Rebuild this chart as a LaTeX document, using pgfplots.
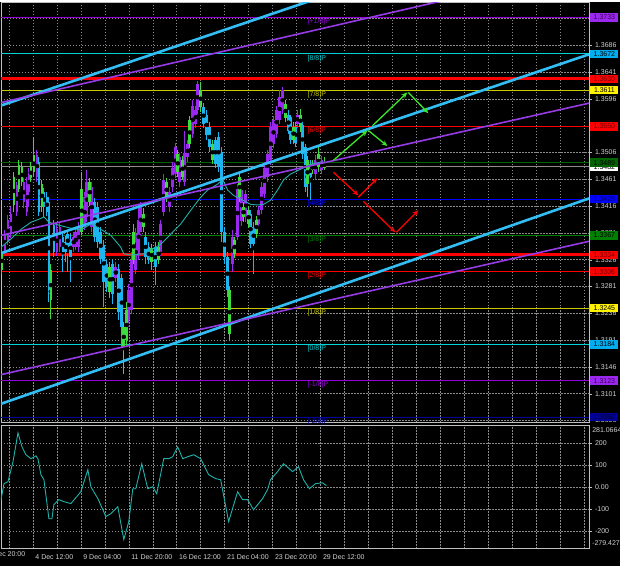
\documentclass[border=0pt]{standalone}
\usepackage{pgfplots}
\pgfplotsset{compat=1.18}
\usepackage{pgfplotstable}
\usepackage{fontspec}
\setmainfont{Liberation Sans}
\usetikzlibrary{arrows.meta,calc}
\pgfdeclarelayer{bg}
\pgfsetlayers{bg,main}

\definecolor{cP}{RGB}{155,40,240}
\definecolor{cB}{RGB}{30,180,240}
\definecolor{cG}{RGB}{60,220,60}
\definecolor{chan}{RGB}{50,190,245}
\definecolor{pchan}{RGB}{150,60,230}
\definecolor{ma}{RGB}{32,178,170}
\definecolor{lvPurple}{RGB}{150,0,220}
\definecolor{lvCyan}{RGB}{0,210,215}
\definecolor{lvYellow}{RGB}{200,200,0}
\definecolor{lvDGreen}{RGB}{0,100,0}
\definecolor{lvBlue}{RGB}{0,0,255}
\definecolor{lvGreen}{RGB}{0,128,0}
\definecolor{lvNavy}{RGB}{0,0,150}
\definecolor{arrG}{RGB}{60,230,40}

% candles: x, high, low, body top, body bottom
\pgfplotstableread{
x h l bt bb
4 1.3376 1.3336 1.3369 1.3342
7 1.3401 1.3351 1.3393 1.3356
10 1.3414 1.3362 1.3403 1.3369
16 1.3456 1.3399 1.3451 1.3406
23 1.3463 1.3413 1.3456 1.3423
26 1.3465 1.3399 1.3456 1.3406
28 1.3480 1.3414 1.3473 1.3440
36 1.3510 1.3456 1.3502 1.3465
56 1.3389 1.3332 1.3377 1.3339
59 1.3389 1.3339 1.3381 1.3347
73 1.3372 1.3339 1.3364 1.3347
75 1.3379 1.3342 1.3372 1.3347
78 1.3389 1.3339 1.3381 1.3347
84 1.3440 1.3376 1.3431 1.3381
86 1.3476 1.3389 1.3456 1.3398
91 1.3456 1.3372 1.3448 1.3381
115 1.3322 1.3289 1.3314 1.3295
128 1.3285 1.3213 1.3275 1.3225
131 1.3339 1.3235 1.3325 1.3242
135 1.3379 1.3302 1.3369 1.3309
138 1.3419 1.3325 1.3393 1.3336
140 1.3423 1.3362 1.3414 1.3372
160 1.3393 1.3332 1.3386 1.3339
163 1.3470 1.3399 1.3460 1.3406
169 1.3448 1.3406 1.3440 1.3414
172 1.3490 1.3440 1.3481 1.3448
175 1.3523 1.3463 1.3515 1.3470
179 1.3506 1.3448 1.3498 1.3456
184 1.3543 1.3450 1.3506 1.3456
187 1.3527 1.3490 1.3520 1.3498
192 1.3594 1.3530 1.3585 1.3537
195 1.3584 1.3547 1.3577 1.3554
197 1.3627 1.3570 1.3621 1.3577
232 1.3376 1.3305 1.3364 1.3319
237 1.3453 1.3359 1.3445 1.3364
241 1.3448 1.3383 1.3443 1.3392
245 1.3443 1.3389 1.3436 1.3398
258 1.3416 1.3379 1.3409 1.3386
261 1.3456 1.3403 1.3448 1.3409
264 1.3490 1.3429 1.3481 1.3436
267 1.3510 1.3456 1.3503 1.3465
270 1.3557 1.3486 1.3549 1.3493
273 1.3567 1.3513 1.3560 1.3520
276 1.3584 1.3530 1.3577 1.3537
279 1.3611 1.3554 1.3599 1.3560
282 1.3616 1.3570 1.3611 1.3577
297 1.3577 1.3547 1.3570 1.3554
315 1.3502 1.3460 1.3493 1.3470
321 1.3500 1.3470 1.3493 1.3476
}\candP

\pgfplotstableread{
x h l bt bb
38 1.3498 1.3399 1.3490 1.3406
43 1.3446 1.3398 1.3440 1.3414
46 1.3440 1.3399 1.3431 1.3406
48 1.3431 1.3255 1.3423 1.3268
53 1.3393 1.3330 1.3384 1.3339
62 1.3372 1.3305 1.3364 1.3339
65 1.3366 1.3322 1.3356 1.3339
67 1.3376 1.3305 1.3369 1.3347
70 1.3369 1.3289 1.3361 1.3331
94 1.3429 1.3356 1.3423 1.3364
97 1.3423 1.3346 1.3414 1.3356
100 1.3381 1.3319 1.3372 1.3327
103 1.3359 1.3247 1.3351 1.3289
106 1.3325 1.3272 1.3319 1.3280
112 1.3325 1.3252 1.3319 1.3268
118 1.3319 1.3225 1.3310 1.3238
121 1.3302 1.3180 1.3295 1.3213
145 1.3372 1.3319 1.3364 1.3331
148 1.3356 1.3319 1.3347 1.3325
155 1.3356 1.3284 1.3347 1.3314
203 1.3590 1.3547 1.3582 1.3554
206 1.3577 1.3527 1.3570 1.3535
209 1.3557 1.3507 1.3549 1.3515
215 1.3533 1.3480 1.3527 1.3486
218 1.3540 1.3473 1.3532 1.3481
221 1.3515 1.3356 1.3507 1.3372
224 1.3381 1.3319 1.3372 1.3331
227 1.3339 1.3263 1.3330 1.3275
250 1.3409 1.3346 1.3403 1.3352
253 1.3389 1.3302 1.3381 1.3352
288 1.3577 1.3537 1.3570 1.3543
290 1.3570 1.3520 1.3565 1.3527
295 1.3557 1.3515 1.3549 1.3523
302 1.3560 1.3496 1.3553 1.3503
305 1.3520 1.3440 1.3515 1.3448
310 1.3493 1.3426 1.3486 1.3465
}\candB

\pgfplotstableread{
x h l bt bb
1 1.3347 1.3302 1.3339 1.3309
13 1.3473 1.3406 1.3465 1.3418
18 1.3493 1.3440 1.3485 1.3445
21 1.3490 1.3450 1.3481 1.3456
30 1.3490 1.3456 1.3481 1.3463
33 1.3532 1.3466 1.3502 1.3473
41 1.3460 1.3406 1.3453 1.3414
50 1.3319 1.3226 1.3309 1.3258
81 1.3473 1.3367 1.3445 1.3372
89 1.3463 1.3416 1.3456 1.3423
109 1.3322 1.3262 1.3314 1.3272
123 1.3221 1.3134 1.3213 1.3180
126 1.3255 1.3180 1.3242 1.3191
133 1.3386 1.3319 1.3372 1.3325
143 1.3413 1.3372 1.3403 1.3381
151 1.3352 1.3309 1.3346 1.3322
158 1.3356 1.3319 1.3347 1.3325
166 1.3463 1.3423 1.3456 1.3431
177 1.3510 1.3465 1.3503 1.3473
182 1.3500 1.3460 1.3493 1.3465
189 1.3567 1.3513 1.3560 1.3520
200 1.3624 1.3574 1.3611 1.3582
212 1.3527 1.3486 1.3520 1.3493
229 1.3280 1.3191 1.3275 1.3201
234 1.3364 1.3329 1.3359 1.3336
239 1.3470 1.3423 1.3465 1.3431
243 1.3423 1.3389 1.3414 1.3398
248 1.3416 1.3379 1.3409 1.3386
256 1.3399 1.3362 1.3393 1.3369
285 1.3594 1.3557 1.3587 1.3565
293 1.3557 1.3520 1.3549 1.3527
300 1.3580 1.3540 1.3570 1.3549
307 1.3500 1.3431 1.3493 1.3453
312 1.3493 1.3470 1.3486 1.3476
318 1.3515 1.3473 1.3503 1.3481
324 1.3498 1.3476 1.3490 1.3481
}\candG

\pgfplotstableread{
x p
0 1.3347
10 1.3361
20 1.3377
30 1.3389
38 1.3394
43 1.3398
48 1.3389
58 1.3384
70 1.3379
80 1.3376
90 1.3386
100 1.3377
110 1.3367
120 1.3347
123 1.3336
130 1.3334
143 1.3336
160 1.3352
170 1.3369
180 1.3386
190 1.3409
200 1.3431
207 1.3443
217 1.3453
222 1.3461
227 1.3443
233 1.3434
240 1.3428
250 1.3419
257 1.3418
263 1.3419
270 1.3426
277 1.3443
283 1.3460
290 1.3470
300 1.3478
310 1.3486
320 1.3490
325 1.3490
}\mavg

\pgfplotstableread{
x v
0 -56
3 17
7 26
12 117
17 249
21 185
25 149
30 131
35 144
37 131
40 58
43 35
48 -143
51 -143
53 -79
58 -56
63 -65
70 -74
80 -20
87 81
90 3
97 -51
105 -133
110 -120
117 -88
123 -238
128 -156
132 -6
135 -6
141 108
147 -6
152 3
156 -29
163 131
168 131
172 140
177 185
182 131
187 140
193 149
200 131
208 58
215 40
220 35
228 -156
237 -20
242 -56
247 -56
253 -102
262 -51
267 -10
270 35
277 72
283 108
292 72
298 94
303 35
309 -6
315 17
322 21
326 8
}\cci

\pgfplotsset{
  wick/.style={only marks, mark=none, forget plot,
    error bars/.cd, y dir=both, y explicit, error mark=none,
    error bar style={line width=1pt, #1}},
  body/.style={only marks, mark=none, forget plot,
    error bars/.cd, y dir=both, y explicit, error mark=none,
    error bar style={line width=2.8pt, #1}},
  lvl/.style={forget plot, line width=0.8pt, #1},
  mt4/.style={scale only axis, width=589pt, xmin=0, xmax=589,
    clip mode=individual,
    axis line style={white!75!black, line width=0.8pt},
    xtick={8,32,...,586}, xtick style={draw=none},
    grid=major, grid style={white!55!black, dash pattern=on 1.5pt off 1.5pt, line width=0.5pt},
    ytick pos=right, yticklabel pos=right, tick align=outside, major tick length=2.5pt,
    ytick style={white!75!black},
    ticklabel style={font=\fontsize{7}{8}\selectfont, text=white!82!black},
  },
}
\tikzset{
  lvlab/.style={anchor=north west, inner sep=1pt, text=#1, font=\fontsize{7}{8}\selectfont},
  pbox/.style={anchor=west, xshift=1.2pt, inner xsep=1.2pt, inner ysep=0.4pt,
    minimum height=8.5pt, minimum width=28pt, font=\fontsize{7}{8}\selectfont},
  sidelab/.style={overlay, inner sep=1pt, font=\fontsize{7}{8}\selectfont, text=white!82!black},
}
\newcommand\candles[2]{%
  \addplot[wick=#1] table[x=x, y expr=(\thisrow{h}+\thisrow{l})/2, y error expr=(\thisrow{h}-\thisrow{l})/2] {#2};
  \addplot[body=#1] table[x=x, y expr=(\thisrow{bt}+\thisrow{bb})/2, y error expr=(\thisrow{bt}-\thisrow{bb})/2] {#2};
}

\begin{document}
\begin{tikzpicture}

% indicator panel (CCI)
\begin{axis}[mt4, name=cci, height=123pt,
  ymin=-279.4274, ymax=281.0664,
  xticklabels={,4 Dec 12:00,,9 Dec 04:00,,11 Dec 20:00,,16 Dec 12:00,,21 Dec 04:00,,23 Dec 20:00,,29 Dec 12:00},
  xticklabel style={anchor=north west, xshift=-1pt},
  ytick={-200,-100,0,100,200},
  yticklabels={-200,-100,0.00,100,200},
]
\addplot[ma, line width=0.9pt] table[x=x, y=v] {\cci};
\node[sidelab, anchor=west] at (axis cs:591,262) {281.0664};
\node[sidelab, anchor=west] at (axis cs:591,-255) {-279.4274};
\node[sidelab, anchor=north west, inner sep=3.3pt] at (axis cs:-17,-279.4274) {2 Dec 20:00};
\end{axis}

% price panel
\begin{axis}[mt4, name=main, at={(cci.north west)}, anchor=south west, yshift=3pt, height=421pt,
  ymin=1.30521, ymax=1.37581,
  xticklabels={},
  ytick={1.3056,1.3101,1.3146,1.3191,1.3236,1.3281,1.3326,1.3371,1.3416,1.3461,1.3506,1.3551,1.3596,1.3641,1.3686,1.3731},
  yticklabel style={/pgf/number format/.cd, fixed, fixed zerofill, precision=4, assume math mode=true},
]
% Murrey levels
\addplot[lvl=lvPurple] coordinates {(0,1.3733) (589,1.3733)};
\addplot[lvl=lvCyan] coordinates {(0,1.3672) (589,1.3672)};
\addplot[lvl=red, line width=3pt] coordinates {(0,1.3630) (589,1.3630)};
\addplot[lvl=lvYellow] coordinates {(0,1.3611) (589,1.3611)};
\addplot[lvl=red] coordinates {(0,1.3550) (589,1.3550)};
\addplot[lvl=lvDGreen] coordinates {(0,1.3489) (589,1.3489)};
\addplot[lvl=white!55!black] coordinates {(0,1.3482) (589,1.3482)};
\addplot[lvl=lvBlue] coordinates {(0,1.3428) (589,1.3428)};
\addplot[lvl=lvGreen] coordinates {(0,1.3367) (589,1.3367)};
\addplot[lvl=red, line width=3pt] coordinates {(0,1.3334) (589,1.3334)};
\addplot[lvl=red] coordinates {(0,1.3306) (589,1.3306)};
\addplot[lvl=lvYellow] coordinates {(0,1.3245) (589,1.3245)};
\addplot[lvl=lvCyan] coordinates {(0,1.3184) (589,1.3184)};
\addplot[lvl=lvPurple] coordinates {(0,1.3123) (589,1.3123)};
\addplot[lvl=lvNavy] coordinates {(0,1.3062) (589,1.3062)};

\node[lvlab=lvPurple] at (axis cs:306,1.3733) {[+1/8]P};
\node[lvlab=lvCyan] at (axis cs:306,1.3672) {[8/8]P};
\node[lvlab=lvYellow] at (axis cs:306,1.3611) {[7/8]P};
\node[lvlab=red] at (axis cs:306,1.3550) {[6/8]P};
\node[lvlab=lvDGreen] at (axis cs:306,1.3489) {[5/8]P};
\node[lvlab=lvBlue] at (axis cs:306,1.3428) {[4/8]P};
\node[lvlab=lvGreen] at (axis cs:306,1.3367) {[3/8]P};
\node[lvlab=red] at (axis cs:306,1.3306) {[2/8]P};
\node[lvlab=lvYellow] at (axis cs:306,1.3245) {[1/8]P};
\node[lvlab=lvCyan] at (axis cs:306,1.3184) {[0/8]P};
\node[lvlab=lvPurple] at (axis cs:306,1.3123) {[-1/8]P};
\node[lvlab=lvNavy, overlay] at (axis cs:306,1.3062) {[-2/8]P};

% candles
\candles{cB}{\candB}
\candles{cP}{\candP}
\candles{cG}{\candG}

% moving average
\addplot[ma, line width=0.9pt, forget plot] table[x=x, y=p] {\mavg};

% channels
\addplot[chan, line width=2.6pt] coordinates {(0,1.3585) (400,1.3812)};
\addplot[chan, line width=2.6pt] coordinates {(0,1.3337) (589,1.3671)};
\addplot[chan, line width=2.6pt] coordinates {(0,1.3084) (589,1.3429)};
\addplot[pchan, line width=1.6pt] coordinates {(0,1.3590) (450,1.3764)};
\addplot[pchan, line width=1.6pt] coordinates {(0,1.3367) (589,1.3589)};
\addplot[pchan, line width=1.6pt] coordinates {(0,1.3133) (589,1.3357)};

% forecast arrows
\addplot[arrG, line width=1.3pt, -{Stealth[length=6pt,width=5pt]}] coordinates {(333,1.3493) (367,1.3543)};
\addplot[arrG, line width=1.3pt, -{Stealth[length=6pt,width=5pt]}] coordinates {(368,1.3543) (387,1.3517)};
\addplot[arrG, line width=1.3pt, -{Stealth[length=6pt,width=5pt]}] coordinates {(372,1.3551) (407,1.3607)};
\addplot[arrG, line width=1.3pt, -{Stealth[length=6pt,width=5pt]}] coordinates {(408,1.3607) (428,1.3572)};
\addplot[red, line width=1.3pt, -{Stealth[length=6pt,width=5pt]}] coordinates {(333,1.3473) (358,1.3434)};
\addplot[red, line width=1.3pt, -{Stealth[length=6pt,width=5pt]}] coordinates {(358,1.3431) (377,1.3463)};
\addplot[red, line width=1.3pt, -{Stealth[length=6pt,width=5pt]}] coordinates {(363,1.3424) (395,1.3372)};
\addplot[red, line width=1.3pt, -{Stealth[length=6pt,width=5pt]}] coordinates {(396,1.3372) (418,1.3409)};

\coordinate (b1) at (axis cs:589,1.3733);
\coordinate (b2) at (axis cs:589,1.3672);
\coordinate (b3) at (axis cs:589,1.3630);
\coordinate (b4) at (axis cs:589,1.3611);
\coordinate (b5) at (axis cs:589,1.3550);
\coordinate (b6) at (axis cs:589,1.3489);
\coordinate (b7) at (axis cs:589,1.3482);
\coordinate (b8) at (axis cs:589,1.3428);
\coordinate (b9) at (axis cs:589,1.3367);
\coordinate (b10) at (axis cs:589,1.3334);
\coordinate (b11) at (axis cs:589,1.3306);
\coordinate (b12) at (axis cs:589,1.3245);
\coordinate (b13) at (axis cs:589,1.3184);
\coordinate (b14) at (axis cs:589,1.3123);
\coordinate (b15) at (axis cs:589,1.3062);
\end{axis}

\node[pbox, fill=cP, text=lvPurple!40!black] at (b1) {1.3733};
\node[pbox, fill=cyan, text=black] at (b2) {1.3672};
\node[pbox, fill=red, text=red!45!black] at (b3) {1.3630};
\node[pbox, fill=yellow, text=black] at (b4) {1.3611};
\node[pbox, fill=red, text=red!45!black] at (b5) {1.3550};
\node[pbox, fill=white, text=black] at (b7) {1.3482};
\node[pbox, fill=lvDGreen, text=black] at (b6) {1.3489};
\node[pbox, fill=lvBlue, text=lvBlue!40!black] at (b8) {1.3428};
\node[pbox, fill=lvGreen, text=black] at (b9) {1.3367};
\node[pbox, fill=red, text=red!45!black] at (b10) {1.3334};
\node[pbox, fill=red, text=red!45!black] at (b11) {1.3306};
\node[pbox, fill=yellow, text=black] at (b12) {1.3245};
\node[pbox, fill=cyan, text=black] at (b13) {1.3184};
\node[pbox, fill=cP, text=lvPurple!40!black] at (b14) {1.3123};
\node[pbox, fill=lvNavy, text=lvNavy!40!black, overlay] at (b15) {1.3062};

\begin{pgfonlayer}{bg}
\fill[black] ($(cci.south west)+(-0.5pt,-17pt)$) rectangle ($(main.north west)+(620pt,0.5pt)$);
\end{pgfonlayer}
\end{tikzpicture}
\end{document}
